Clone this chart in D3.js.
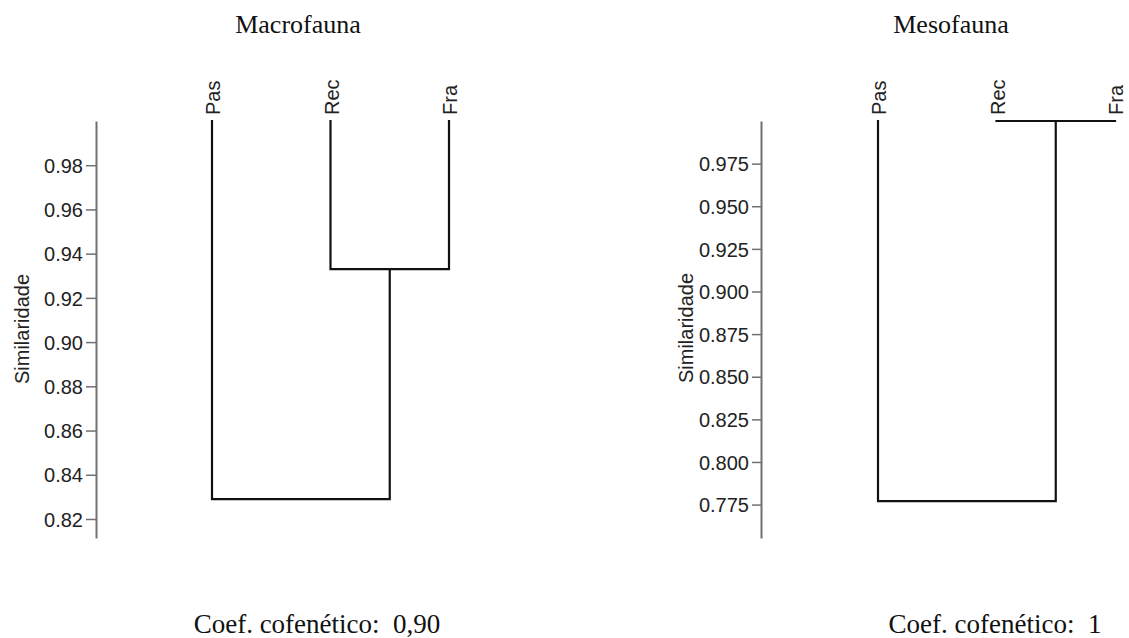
<!DOCTYPE html>
<html>
<head>
<meta charset="utf-8">
<script src="https://cdn.jsdelivr.net/npm/d3@7"></script>
<style>
  html, body { margin: 0; padding: 0; background: #fff; }
  svg { display: block; }
  .tick text { font-family: "Liberation Sans", Arial, sans-serif; font-size: 20px; fill: #222; }
  .serif { font-family: "Liberation Serif", "Times New Roman", serif; fill: #111; white-space: pre; }
  .sans { font-family: "Liberation Sans", Arial, sans-serif; fill: #222; }
</style>
</head>
<body>
<svg id="chart" width="1129" height="638"></svg>
<script>
// Leaves of each dendrogram
const leaves = ["Pas", "Rec", "Fra"];

// Macrofauna: similarity at which clusters merge
const macroTitle = "Macrofauna";
const macroMerges = [
  { left: ["Rec"], right: ["Fra"], height: 0.933 },
  { left: ["Pas"], right: ["Rec", "Fra"], height: 0.829 }
];
const macroTicks = [0.82, 0.84, 0.86, 0.88, 0.90, 0.92, 0.94, 0.96, 0.98];
const macroDomain = [0.8114, 1.0];
const macroCoef = "Coef. cofenético:  0,90";

// Mesofauna
const mesoTitle = "Mesofauna";
const mesoMerges = [
  { left: ["Rec"], right: ["Fra"], height: 1.0 },
  { left: ["Pas"], right: ["Rec", "Fra"], height: 0.777 }
];
const mesoTicks = [0.775, 0.800, 0.825, 0.850, 0.875, 0.900, 0.925, 0.950, 0.975];
const mesoDomain = [0.7554, 1.0];
const mesoCoef = "Coef. cofenético:  1";

const svg = d3.select("#chart");

function dendrogram(cfg) {
  const g = svg.append("g");
  const y = d3.scaleLinear().domain(cfg.domain).range([538, 121]);
  const x = d3.scalePoint().domain(leaves).range(cfg.xRange);

  // y axis
  const axis = d3.axisLeft(y).tickValues(cfg.ticks).tickFormat(d3.format(cfg.fmt))
    .tickSize(cfg.tickSize).tickPadding(3).tickSizeOuter(0);
  const ag = g.append("g").attr("transform", `translate(${cfg.axisX},0)`).call(axis);
  ag.select(".domain").attr("stroke", "#707070").attr("stroke-width", 2);
  ag.selectAll(".tick line").attr("stroke", "#707070").attr("stroke-width", 1.5);
  ag.selectAll(".tick text").attr("dy", "0.36em");

  // axis title
  g.append("text").attr("class", "sans")
    .attr("transform", `translate(${cfg.labelX},${cfg.labelY}) rotate(-90)`)
    .attr("text-anchor", "middle").attr("font-size", 20)
    .text("Similaridade");

  // cluster positions and heights
  const pos = {};
  const hgt = {};
  leaves.forEach(l => { pos[l] = x(l); hgt[l] = 1.0; });
  const key = arr => arr.join("+");

  const lineColor = "#111";
  cfg.merges.forEach(m => {
    const kl = key(m.left), kr = key(m.right);
    const xl = pos[kl], xr = pos[kr];
    const yl = y(hgt[kl]), yr = y(hgt[kr]), ym = y(m.height);
    g.append("path")
      .attr("d", `M${xl},${yl}V${ym}H${xr}V${yr}`)
      .attr("fill", "none").attr("stroke", lineColor)
      .attr("stroke-width", 2.2).attr("stroke-linecap", "square");
    const k = key(m.left.concat(m.right));
    pos[k] = (xl + xr) / 2;
    hgt[k] = m.height;
  });

  // leaf labels
  leaves.forEach(l => {
    g.append("text").attr("class", "sans")
      .attr("transform", `translate(${x(l) + 8},${115}) rotate(-90)`)
      .attr("font-size", 20)
      .text(l);
  });

  // title
  g.append("text").attr("class", "serif")
    .attr("x", cfg.titleX).attr("y", 33).attr("text-anchor", "middle")
    .attr("font-size", 26).text(cfg.title);

  // cophenetic coefficient
  g.append("text").attr("class", "serif")
    .attr("x", cfg.coefX).attr("y", 633).attr("text-anchor", "middle")
    .attr("font-size", 27).text(cfg.coef);
}

dendrogram({
  title: macroTitle, merges: macroMerges, ticks: macroTicks, domain: macroDomain,
  fmt: ".2f", coef: macroCoef, xRange: [212, 449], axisX: 96, tickSize: 10,
  labelX: 29, labelY: 329, titleX: 298, coefX: 317
});

dendrogram({
  title: mesoTitle, merges: mesoMerges, ticks: mesoTicks, domain: mesoDomain,
  fmt: ".3f", coef: mesoCoef, xRange: [878, 1115], axisX: 761, tickSize: 9,
  labelX: 693, labelY: 328, titleX: 951, coefX: 995
});
</script>
</body>
</html>
